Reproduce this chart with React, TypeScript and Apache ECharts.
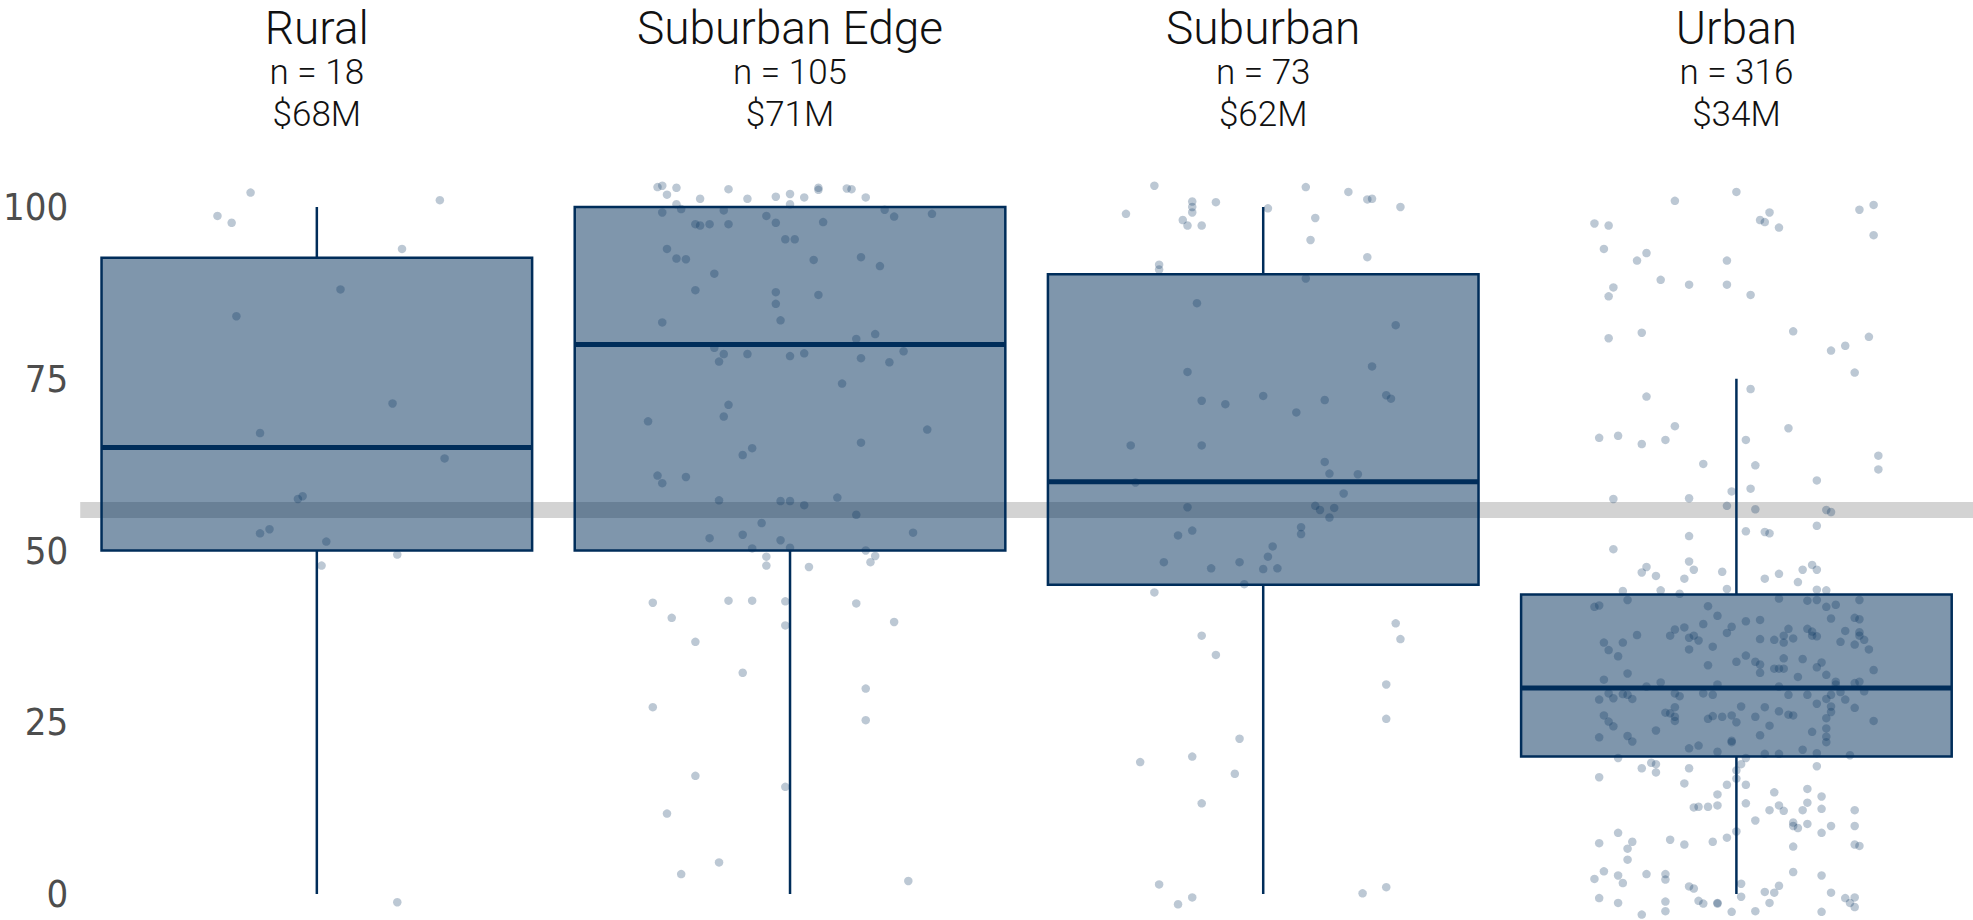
import React, { useEffect, useRef } from "react";
import * as echarts from "echarts";

const categories = ["Rural", "Suburban Edge", "Suburban", "Urban"];
const counts = [18, 105, 73, 316];
const medianDollars = [68, 71, 62, 34];

const whiskerLow = [0, 0, 0, 0];
const q1 = [50, 50, 45, 20];
const median = [65, 80, 60, 30];
const q3 = [92.6, 100, 90.2, 43.6];
const whiskerHigh = [100, 100, 100, 75];

const benchmark = 56;
const yTicks = [0, 25, 50, 75, 100];

// [horizontal jitter offset in category units, value]
const ruralPoints = [
  [-0.21, 98.7], [-0.18, 97.7], [-0.14, 102.1], [0.26, 101.0], [0.18, 93.9], [0.05, 88.0], [-0.17, 84.1],
  [0.16, 71.4], [-0.12, 67.1], [0.27, 63.4], [-0.03, 57.9], [-0.04, 57.5], [-0.10, 53.1], [-0.12, 52.5],
  [0.02, 51.3], [0.17, 49.4], [0.01, 47.8], [0.17, -1.2],
];

const suburbanEdgePoints = [
  [-0.28, 102.9], [-0.27, 103.1], [-0.24, 102.8], [-0.26, 101.8], [-0.13, 102.6], [-0.19, 101.2], [-0.09, 101.2],
  [-0.03, 101.5], [0.0, 101.9], [0.03, 101.4], [0.06, 102.8], [0.06, 102.5], [0.12, 102.7], [0.13, 102.6],
  [0.16, 101.4], [-0.24, 100.4], [0.0, 100.4],
  [-0.27, 99.2], [-0.23, 99.7], [-0.14, 99.5], [-0.05, 98.7], [0.2, 99.6], [0.22, 98.6], [0.3, 99.0],
  [-0.2, 97.5], [-0.19, 97.3], [-0.17, 97.5], [-0.13, 97.5], [-0.03, 97.7], [0.07, 97.8], [-0.01, 95.3],
  [0.01, 95.3], [-0.26, 93.9], [-0.24, 92.5], [-0.22, 92.4], [0.05, 92.3], [0.15, 92.7], [0.19, 91.4],
  [-0.16, 90.3], [-0.2, 87.9], [-0.03, 87.6], [0.06, 87.2], [-0.03, 85.9], [-0.27, 83.2], [-0.02, 83.5],
  [0.14, 80.8], [0.18, 81.5], [-0.16, 79.5], [-0.14, 78.6], [-0.15, 77.5], [-0.09, 78.6], [0.0, 78.3],
  [0.03, 78.7], [0.15, 78.0], [0.21, 77.4], [0.24, 79.0], [0.11, 74.3], [-0.13, 71.2], [-0.14, 69.5],
  [-0.3, 68.8], [0.29, 67.6], [0.15, 65.7], [-0.08, 64.9], [-0.1, 63.9], [-0.28, 60.9], [-0.27, 59.8],
  [-0.22, 60.7], [-0.15, 57.3], [-0.02, 57.2], [0.0, 57.2], [0.03, 56.6], [0.1, 57.7], [0.14, 55.2],
  [-0.06, 54.0], [-0.17, 51.8], [-0.1, 52.3], [-0.02, 51.5], [0.26, 52.6], [-0.08, 50.3], [0.0, 50.4],
  [0.16, 50.0], [0.18, 49.2], [0.17, 48.3], [-0.05, 49.1], [-0.05, 47.8], [0.04, 47.6], [-0.29, 42.4],
  [-0.13, 42.7], [-0.08, 42.7], [-0.01, 42.6], [0.14, 42.3], [-0.25, 40.2], [-0.01, 39.1], [0.22, 39.6],
  [-0.2, 36.7], [-0.1, 32.2], [0.16, 29.9], [-0.29, 27.2], [0.16, 25.3], [-0.2, 17.2], [-0.01, 15.6],
  [-0.26, 11.7], [-0.15, 4.6], [-0.23, 2.9], [0.25, 1.9],
];

const suburbanPoints = [
  [-0.23, 103.1], [-0.29, 99.0], [-0.15, 100.8], [-0.15, 100.0], [-0.15, 99.2], [-0.1, 100.7], [-0.17, 98.1],
  [-0.16, 97.3], [-0.13, 97.3], [0.01, 99.8], [0.09, 102.9], [0.18, 102.2], [0.22, 101.1], [0.23, 101.2],
  [0.29, 100.0], [0.11, 98.4], [0.1, 95.2], [0.22, 92.7], [-0.22, 91.6], [-0.22, 90.9], [0.09, 89.6],
  [-0.14, 86.0], [0.28, 82.8], [0.23, 76.8], [-0.16, 76.0], [-0.13, 71.8], [-0.08, 71.3], [0.0, 72.5],
  [0.07, 70.1], [0.13, 71.9], [0.26, 72.6], [0.27, 72.1], [-0.28, 65.3], [-0.13, 65.3], [0.13, 62.9],
  [0.14, 61.2], [0.2, 61.1], [-0.27, 59.9], [0.17, 58.3], [-0.16, 56.3], [0.11, 56.5], [0.12, 55.9],
  [0.15, 56.2], [0.14, 54.8], [0.08, 53.4], [0.08, 52.4], [-0.15, 52.9], [-0.18, 52.2], [0.02, 50.6],
  [0.01, 49.1], [-0.21, 48.3], [-0.11, 47.4], [-0.05, 48.3], [0.0, 47.3], [0.03, 47.4], [-0.04, 45.1],
  [-0.23, 43.9], [0.28, 39.4], [0.29, 37.1], [-0.13, 37.6], [-0.1, 34.8], [0.26, 30.5], [0.26, 25.5],
  [-0.05, 22.6], [-0.26, 19.2], [-0.15, 20.0], [-0.06, 17.5], [-0.13, 13.2], [-0.22, 1.4], [-0.18, -1.5],
  [-0.15, -0.5], [0.21, 0.1], [0.26, 1.0],
];

const urbanPoints = [
  [-0.3, 97.6], [-0.27, 97.3], [-0.13, 100.9], [0.0, 102.2], [0.07, 99.2], [0.05, 98.1], [0.06, 97.8],
  [0.09, 97.0], [0.26, 99.6], [0.29, 100.3], [0.29, 95.9], [-0.28, 93.9], [-0.21, 92.2], [-0.19, 93.3],
  [-0.02, 92.2], [-0.16, 89.4], [-0.1, 88.7], [-0.02, 88.7], [-0.26, 88.3], [-0.27, 87.0], [0.03, 87.2],
  [-0.27, 80.9], [-0.2, 81.7], [0.12, 81.9], [0.28, 81.1], [0.2, 79.1], [0.23, 79.8], [0.25, 75.9],
  [-0.19, 72.4], [-0.13, 68.1], [-0.29, 66.4], [-0.25, 66.7], [-0.2, 65.5], [-0.15, 66.1], [-0.07, 62.6],
  [-0.01, 58.6], [-0.26, 57.5], [-0.1, 57.6], [-0.02, 56.5], [-0.1, 52.1], [-0.26, 50.2], [-0.1, 48.4],
  [-0.19, 47.6], [-0.2, 46.8], [-0.17, 46.3], [-0.09, 47.2], [-0.11, 45.9], [-0.03, 46.9], [-0.02, 44.4],
  [-0.24, 44.1], [-0.16, 44.2], [-0.12, 43.7],
  [-0.3, 41.8], [-0.29, 42.0], [-0.23, 42.8], [-0.06, 41.9], [-0.04, 40.5], [-0.07, 39.3], [-0.11, 38.8],
  [-0.13, 38.5], [-0.14, 37.6], [-0.1, 37.3], [-0.09, 37.6], [-0.08, 36.9], [-0.02, 38.0], [-0.01, 38.9],
  [-0.21, 37.7], [-0.28, 36.6], [-0.24, 36.6], [-0.27, 35.5], [-0.25, 34.6], [-0.1, 35.6], [-0.05, 36.0],
  [-0.06, 33.3], [0.0, 33.8], [-0.23, 32.1], [-0.28, 31.2], [-0.16, 30.8], [-0.19, 30.2], [-0.04, 30.5],
  [-0.27, 29.2], [-0.24, 29.1], [-0.23, 29.0], [-0.26, 28.5], [-0.22, 28.4], [-0.13, 29.2], [-0.12, 28.8],
  [-0.07, 29.2], [-0.05, 29.0], [-0.29, 28.3],
  [0.03, 73.5], [0.11, 67.8], [0.02, 66.1], [0.04, 62.4], [0.17, 60.2], [0.3, 63.8], [0.3, 61.8],
  [0.03, 59.0], [0.04, 56.0], [0.19, 55.9], [0.2, 55.6], [0.17, 53.6], [0.02, 52.8], [0.06, 52.7],
  [0.07, 52.5], [0.14, 47.2], [0.16, 47.9], [0.17, 47.2], [0.09, 46.6], [0.06, 45.9], [0.13, 45.4],
  [0.17, 44.3], [0.19, 44.2],
  [0.09, 43.0], [0.15, 42.7], [0.17, 42.8], [0.26, 42.8], [0.19, 41.8], [0.21, 42.1], [0.2, 40.1],
  [0.25, 40.2], [0.26, 40.0], [0.02, 39.7], [0.05, 39.9], [0.11, 38.6], [0.15, 38.6], [0.16, 38.2],
  [0.16, 37.6], [0.17, 37.5], [0.23, 38.3], [0.26, 38.1], [0.26, 37.6], [0.27, 37.0], [0.1, 37.6],
  [0.12, 37.2], [0.1, 36.6], [0.05, 37.1], [0.08, 37.0], [0.22, 36.7], [0.25, 36.3], [0.28, 35.6],
  [0.02, 34.7], [0.1, 34.3], [0.14, 34.2], [0.18, 33.7], [0.04, 33.8], [0.05, 33.4], [0.05, 32.2],
  [0.08, 32.8], [0.09, 32.8], [0.1, 32.8], [0.17, 33.0], [0.19, 31.9], [0.13, 31.6], [0.29, 32.6],
  [0.09, 30.2], [0.21, 30.5], [0.21, 30.9], [0.25, 30.7], [0.26, 30.9],
  [0.11, 29.0], [0.15, 29.0], [0.2, 29.0], [0.22, 29.4], [0.19, 28.4], [0.27, 29.5], [0.23, 28.3],
  [0.01, 27.3], [0.06, 27.2], [0.09, 26.6], [0.11, 26.1], [0.12, 26.0], [0.17, 27.7], [0.2, 27.3],
  [0.25, 27.1], [0.2, 26.5], [0.19, 25.6], [0.29, 25.2], [0.19, 24.1], [0.19, 22.9], [0.19, 22.1],
  [0.16, 23.6], [0.14, 21.0], [0.17, 20.5], [0.24, 20.2], [0.07, 24.5], [0.05, 23.1], [0.09, 20.4],
  [0.06, 20.4], [0.04, 25.8], [0.0, 25.0], [-0.01, 26.0], [-0.03, 25.8], [-0.05, 25.9], [-0.06, 25.5],
  [-0.01, 22.3], [-0.01, 22.1], [-0.04, 20.7], [-0.08, 21.6], [-0.1, 21.2], [-0.13, 25.8], [-0.13, 25.2],
  [-0.14, 26.3], [-0.15, 26.4], [-0.13, 27.2], [-0.17, 23.8], [-0.22, 22.2], [-0.23, 23.0], [-0.29, 22.8],
  [-0.28, 26.0], [-0.27, 25.1], [-0.26, 24.4],
  [-0.25, 19.8], [-0.18, 19.1], [-0.17, 18.9], [-0.2, 18.3], [-0.17, 17.7], [-0.29, 17.0], [-0.1, 18.3],
  [-0.11, 16.1], [-0.02, 15.9], [0.0, 18.0], [0.0, 16.8], [0.01, 18.9], [0.02, 19.8], [0.02, 15.9],
  [-0.04, 14.5], [0.02, 13.2], [-0.09, 12.6], [-0.08, 12.7], [-0.06, 12.7], [-0.04, 12.9], [0.04, 10.7],
  [0.08, 14.8], [0.07, 12.2], [0.09, 12.9], [0.1, 12.1], [0.15, 15.3], [0.18, 14.2], [0.15, 13.3],
  [0.14, 12.2], [0.18, 12.4], [0.17, 18.6], [0.25, 12.2], [0.25, 9.9], [0.12, 10.4], [0.12, 9.9],
  [0.13, 9.6], [0.15, 10.2], [0.18, 8.9], [0.2, 9.9], [0.12, 6.9], [0.25, 7.2], [0.26, 7.0],
  [0.12, 3.2], [0.18, 2.7], [0.2, 0.2], [0.23, -0.6], [0.24, -1.3], [0.25, -0.5], [0.25, -1.9],
  [0.18, -2.6], [0.09, 1.2], [0.08, 0.2], [0.06, 0.3], [0.07, -1.3], [0.04, -2.5], [0.01, -0.4],
  [0.01, 1.5], [-0.01, -2.6], [-0.04, -1.4], [-0.04, -1.3], [-0.07, -1.4], [-0.08, -1.0], [-0.1, 1.1],
  [-0.09, 0.8], [-0.15, -2.5], [-0.15, -1.1], [-0.15, 2.1], [-0.15, 2.9], [-0.19, 2.9], [-0.2, -3.0],
  [-0.25, -1.3], [-0.29, -0.6], [-0.3, 2.2], [-0.28, 3.3], [-0.25, 2.7], [-0.24, 1.6], [-0.23, 5.0],
  [-0.23, 6.6], [-0.22, 7.6], [-0.25, 8.9], [-0.29, 7.4], [-0.14, 7.9], [-0.11, 7.2], [-0.05, 7.6],
  [-0.02, 8.2], [0.0, 9.1],
];

const NAVY = "#002d5a";
const BOX_FILL = "rgba(0,45,90,0.5)";
const POINT_FILL = "rgba(0,45,90,0.33)";
const HEADER_FONT = 'Roboto, "Open Sans", sans-serif';
const TICK_FONT = '"Liberation Sans Narrow", "DejaVu Sans Condensed", "Liberation Sans", sans-serif';

export default function App() {
  const ref = useRef<HTMLDivElement>(null);

  useEffect(() => {
    if (!ref.current) return;
    const chart = echarts.init(ref.current, null, { renderer: "svg" });
    const groups = [ruralPoints, suburbanEdgePoints, suburbanPoints, urbanPoints];
    const scatterData = groups.flatMap((arr, i) => arr.map(([dx, v]) => [i + dx, v]));
    const boxData = categories.map((_, i) => [i, whiskerLow[i], q1[i], median[i], q3[i], whiskerHigh[i]]);

    chart.setOption({
      animation: false,
      backgroundColor: "#ffffff",
      grid: { left: 73, right: 0, top: 207, bottom: 26, containLabel: false },
      xAxis: [
        {
          type: "category",
          data: categories,
          position: "top",
          axisLine: { show: false },
          axisTick: { show: false },
          splitLine: { show: false },
          axisLabel: {
            interval: 0,
            margin: 72,
            formatter: (v: string, i: number) =>
              `{a|${v}}\n{b|n = ${counts[i]}}\n{b|$${medianDollars[i]}M}`,
            rich: {
              a: { fontSize: 46, lineHeight: 47, fontFamily: HEADER_FONT, fontWeight: 300, color: "#111111" },
              b: { fontSize: 35, lineHeight: 42, fontFamily: HEADER_FONT, fontWeight: 300, color: "#111111" },
            },
          },
        },
        { type: "value", min: -0.5, max: 3.5, show: false },
      ],
      yAxis: {
        type: "value",
        min: yTicks[0],
        max: yTicks[yTicks.length - 1],
        interval: 25,
        axisLine: { show: false },
        axisTick: { show: false },
        splitLine: { show: false },
        axisLabel: { fontSize: 38, color: "#4d4d4d", fontFamily: TICK_FONT, margin: 12 },
      },
      series: [
        {
          type: "line",
          data: [],
          z: 1,
          silent: true,
          markLine: {
            z: 1,
            silent: true,
            symbol: ["none", "none"],
            label: { show: false },
            emphasis: { disabled: true },
            lineStyle: { color: "#d3d3d3", width: 16, type: "solid", opacity: 1 },
            data: [{ yAxis: benchmark }],
          },
        },
        {
          type: "custom",
          xAxisIndex: 0,
          yAxisIndex: 0,
          z: 3,
          silent: true,
          data: boxData,
          encode: { x: 0, y: [1, 2, 3, 4, 5] },
          renderItem: (params: any, api: any) => {
            const x = api.value(0);
            const lo = api.coord([x, api.value(1)]);
            const b1 = api.coord([x, api.value(2)]);
            const md = api.coord([x, api.value(3)]);
            const b3 = api.coord([x, api.value(4)]);
            const hi = api.coord([x, api.value(5)]);
            const band = api.size([1, 0])[0];
            const half = band * 0.455;
            return {
              type: "group",
              children: [
                { type: "line", shape: { x1: lo[0], y1: lo[1], x2: b1[0], y2: b1[1] }, style: { stroke: NAVY, lineWidth: 2.5 } },
                { type: "line", shape: { x1: b3[0], y1: b3[1], x2: hi[0], y2: hi[1] }, style: { stroke: NAVY, lineWidth: 2.5 } },
                {
                  type: "rect",
                  shape: { x: b1[0] - half, y: b3[1], width: half * 2, height: b1[1] - b3[1] },
                  style: { fill: BOX_FILL, stroke: NAVY, lineWidth: 2.5 },
                },
                {
                  type: "line",
                  shape: { x1: md[0] - half, y1: md[1], x2: md[0] + half, y2: md[1] },
                  style: { stroke: NAVY, lineWidth: 5 },
                },
              ],
            };
          },
        },
        {
          type: "scatter",
          xAxisIndex: 1,
          yAxisIndex: 0,
          z: 4,
          silent: true,
          clip: false,
          symbol: "circle",
          symbolSize: 8.5,
          itemStyle: { color: POINT_FILL, borderWidth: 0 },
          data: scatterData,
        },
      ],
    });

    return () => chart.dispose();
  }, []);

  return (
    <div
      ref={ref}
      style={{ position: "fixed", left: 0, top: 0, width: 1973, height: 920, background: "#ffffff" }}
    />
  );
}
